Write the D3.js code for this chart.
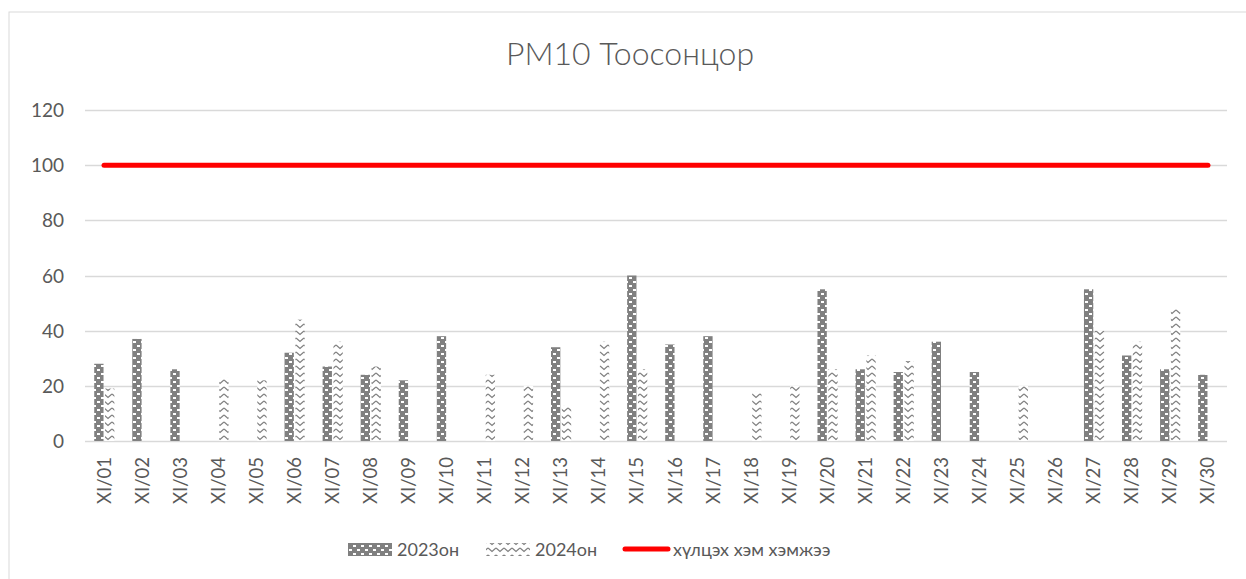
<!DOCTYPE html>
<html><head><meta charset="utf-8">
<script src="https://cdn.jsdelivr.net/npm/d3@7"></script>
<style>body{margin:0;background:#fff}svg{display:block}text{font-family:Lato,"Open Sans",sans-serif;fill:#595959}</style>
</head><body><svg id="c" width="1246" height="579"></svg>
<script>
const categories = ["XI/01","XI/02","XI/03","XI/04","XI/05","XI/06","XI/07","XI/08","XI/09","XI/10","XI/11","XI/12","XI/13","XI/14","XI/15","XI/16","XI/17","XI/18","XI/19","XI/20","XI/21","XI/22","XI/23","XI/24","XI/25","XI/26","XI/27","XI/28","XI/29","XI/30"];
const series2023 = [28,37,26,0,0,32,27,24,22,38,0,0,34,0,60,35,38,0,0,55,26,25,36,25,0,0,55,31,26,24];
const series2024 = [19,0,0,23,22,44,36,27,0,0,24,20,13,36,26,0,0,18,20,26,31,29,0,0,20,0,40,36,48,0];
const limitValue = 100;
const yTicks = [0,20,40,60,80,100,120];
const seriesNames = ["2023он","2024он","хүлцэх хэм хэмжээ"];
const title = "PM10 Тоосонцор";

const svg = d3.select("#c");
const defs = svg.append("defs");
const p1 = defs.append("pattern").attr("id","p2023").attr("patternUnits","userSpaceOnUse").attr("width",8).attr("height",8);
p1.append("rect").attr("width",8).attr("height",8).attr("fill","#808080");
p1.append("rect").attr("x",1).attr("y",1).attr("width",3).attr("height",2).attr("fill","#fff");
p1.append("rect").attr("x",5).attr("y",5).attr("width",3).attr("height",2).attr("fill","#fff");
const p2 = defs.append("pattern").attr("id","p2024").attr("patternUnits","userSpaceOnUse").attr("width",8).attr("height",7);
p2.append("rect").attr("width",8).attr("height",7).attr("fill","#fff");
p2.append("path").attr("d","M0,2 L4,5.5 L8,2").attr("fill","none").attr("stroke","#7f7f7f").attr("stroke-width",1.3);

svg.append("rect").attr("x",9).attr("y",12).attr("width",1300).attr("height",600).attr("fill","none").attr("stroke","#d9d9d9").attr("stroke-width",1);

const mLeft = 85, mRight = 1227, mTop = 110, mBottom = 441;
const x = d3.scaleBand().domain(categories).range([mLeft,mRight]).paddingInner(0).paddingOuter(0);
const y = d3.scaleLinear().domain([0,120]).range([mBottom,mTop]);

svg.append("g").selectAll("line").data(yTicks).join("line")
  .attr("x1",mLeft).attr("x2",mRight).attr("y1",d=>Math.round(y(d))+0.5).attr("y2",d=>Math.round(y(d))+0.5)
  .attr("stroke","#d9d9d9").attr("stroke-width",1.3);

const yAxis = d3.axisLeft(y).tickValues(yTicks).tickSize(0).tickPadding(0);
const ya = svg.append("g").attr("transform",`translate(64,0)`).call(yAxis);
ya.select(".domain").remove();
ya.selectAll("text").attr("font-size",19).style("font-family","Lato").attr("fill","#595959").attr("dy","0.35em");

const bw = x.bandwidth()*0.245;
const g = svg.append("g");
g.selectAll(".b23").data(categories).join("rect")
  .attr("x",(d)=>x(d)+x.bandwidth()/2-bw-0.5)
  .attr("y",(d,i)=>y(series2023[i]))
  .attr("width",bw).attr("height",(d,i)=>mBottom-y(series2023[i]))
  .attr("fill","url(#p2023)");
g.selectAll(".b24").data(categories).join("rect")
  .attr("x",(d)=>x(d)+x.bandwidth()/2+1)
  .attr("y",(d,i)=>y(series2024[i]))
  .attr("width",bw).attr("height",(d,i)=>mBottom-y(series2024[i]))
  .attr("fill","url(#p2024)");

const line = d3.line().x(d=>x(d)+x.bandwidth()/2).y(()=>y(limitValue));
svg.append("path").datum(categories).attr("d",line).attr("fill","none")
  .attr("stroke","#ff0000").attr("stroke-width",5).attr("stroke-linecap","round");

const xAxis = d3.axisBottom(x).tickSize(0).tickPadding(0);
const xa = svg.append("g").attr("transform",`translate(0,${mBottom})`).call(xAxis);
xa.select(".domain").remove();
xa.selectAll("text").attr("font-size",18.5).style("font-family","Lato").attr("fill","#595959")
  .attr("transform","rotate(-90)").attr("text-anchor","end").attr("x",-16).attr("y",0).attr("dy","0.35em");

svg.append("text").attr("x",630).attr("y",65).attr("text-anchor","middle").attr("font-size",32).attr("font-weight",300).text(title);

const lg = svg.append("g");
lg.append("rect").attr("x",348).attr("y",543).attr("width",44).attr("height",13).attr("fill","url(#p2023)");
lg.append("text").attr("x",397).attr("y",556).attr("font-size",18).text(seriesNames[0]);
lg.append("rect").attr("x",486).attr("y",543).attr("width",44).attr("height",13).attr("fill","url(#p2024)");
lg.append("text").attr("x",535).attr("y",556).attr("font-size",18).text(seriesNames[1]);
lg.append("line").attr("x1",625).attr("x2",668).attr("y1",549).attr("y2",549).attr("stroke","#ff0000").attr("stroke-width",5).attr("stroke-linecap","round");
lg.append("text").attr("x",673).attr("y",556).attr("font-size",18).text(seriesNames[2]);
</script></body></html>
